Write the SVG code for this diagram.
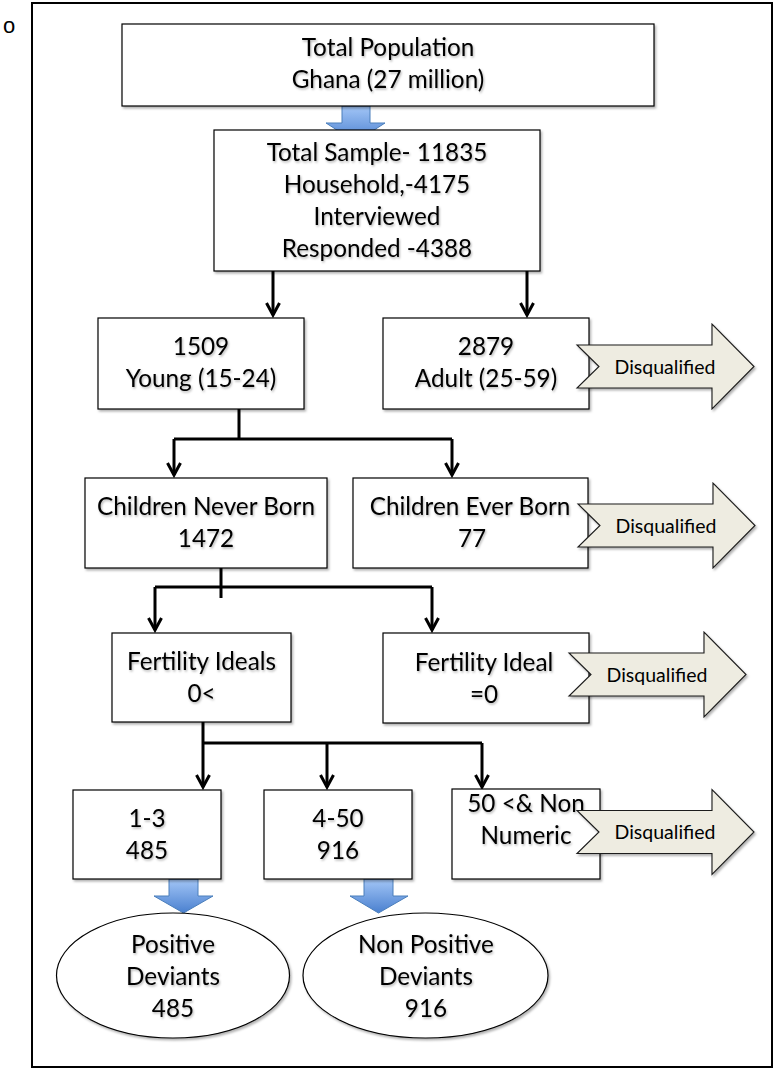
<svg xmlns="http://www.w3.org/2000/svg" width="776" height="1070" viewBox="0 0 776 1070">
<style>
.box{fill:#fff;stroke:#000;stroke-width:1.2;filter:url(#sh)}
.t{font-family:Lato,"Liberation Sans",sans-serif;font-size:24.3px;text-anchor:middle;fill:#000;filter:url(#tsh)}
.dq{fill:#EEECE1;stroke:#1a1a1a;stroke-width:1.1;filter:url(#sh)}
.dqt{font-family:Lato,"Liberation Sans",sans-serif;font-size:19.5px;text-anchor:middle;fill:#000}
.con{fill:none;stroke:#000;stroke-width:3}
.blue{fill:url(#bg);stroke:#4A7EBB;stroke-width:1}
</style>
<defs>
<filter id="sh" x="-5%" y="-5%" width="115%" height="125%"><feDropShadow dx="1.5" dy="2" stdDeviation="1.2" flood-color="#000" flood-opacity="0.3"/></filter>
<filter id="tsh" x="-5%" y="-20%" width="115%" height="150%"><feDropShadow dx="1" dy="1.5" stdDeviation="0.8" flood-color="#000" flood-opacity="0.3"/></filter>
<linearGradient id="bg" x1="0" y1="0" x2="0" y2="1"><stop offset="0" stop-color="#A3C6F7"/><stop offset="1" stop-color="#4A80CF"/></linearGradient>
<marker id="ah" markerUnits="userSpaceOnUse" markerWidth="20" markerHeight="20" viewBox="-14 -10 20 20" refX="0" refY="0" orient="auto" overflow="visible"><path d="M-12,-6.5 L0,0 L-12,6.5" fill="none" stroke="#000" stroke-width="3"/></marker>
<path id="dqs" d="M0,-21.5 H135 V-42.5 L177,0 L135,42.5 V21.5 H0 L22,0 Z"/>
</defs>
<rect width="776" height="1070" fill="#fff"/>
<text x="3" y="33" style="font-family:'Liberation Sans',sans-serif;font-size:22px">o</text>
<rect x="32" y="3" width="740" height="1064" fill="none" stroke="#000" stroke-width="2"/>

<g id="connectors">
<path class="blue" d="M342,106 H370 V123 H385 L355.5,142 L326,123 H342 Z"/>
<path class="con" d="M273,271 V315" marker-end="url(#ah)"/>
<path class="con" d="M527,271 V315" marker-end="url(#ah)"/>
<path class="con" d="M239,409 V439 M174,439 H452"/>
<path class="con" d="M174,439 V475" marker-end="url(#ah)"/>
<path class="con" d="M452,439 V475" marker-end="url(#ah)"/>
<path class="con" d="M221,568 V598 M155,587 H432"/>
<path class="con" d="M155,587 V630" marker-end="url(#ah)"/>
<path class="con" d="M432,587 V630" marker-end="url(#ah)"/>
<path class="con" d="M203,722 V743 M203,743 H482"/>
<path class="con" d="M203,743 V787" marker-end="url(#ah)"/>
<path class="con" d="M327,743 V787" marker-end="url(#ah)"/>
<path class="con" d="M482,743 V787" marker-end="url(#ah)"/>
<path class="blue" d="M169,879 H198 V896 H213 L183.5,913 L154,896 H169 Z"/>
<path class="blue" d="M364,879 H393 V896 H408 L378.5,913 L350,896 H364 Z"/>
</g>

<g id="n-total">
<rect class="box" x="122" y="24" width="532" height="82"/>
<text class="t" x="388" y="56">Total Population</text>
<text class="t" x="388" y="88">Ghana (27 million)</text>
</g>
<g id="n-sample">
<rect class="box" x="214" y="130" width="326" height="141"/>
<text class="t" x="377" y="161">Total Sample- 11835</text>
<text class="t" x="377" y="193">Household,-4175</text>
<text class="t" x="377" y="225">Interviewed</text>
<text class="t" x="377" y="257">Responded -4388</text>
</g>
<g id="n-young">
<rect class="box" x="98" y="318" width="206" height="91"/>
<text class="t" x="201" y="355">1509</text>
<text class="t" x="201" y="387">Young (15-24)</text>
</g>
<g id="n-adult">
<rect class="box" x="383" y="318" width="206" height="91"/>
<text class="t" x="486" y="355">2879</text>
<text class="t" x="486" y="387">Adult (25-59)</text>
</g>
<g id="n-never">
<rect class="box" x="85" y="478" width="242" height="90"/>
<text class="t" x="206" y="515">Children Never Born</text>
<text class="t" x="206" y="547">1472</text>
</g>
<g id="n-ever">
<rect class="box" x="353" y="478" width="235" height="90"/>
<text class="t" x="470" y="515">Children Ever Born</text>
<text class="t" x="472" y="547">77</text>
</g>
<g id="n-fi">
<rect class="box" x="112" y="633" width="179" height="89"/>
<text class="t" x="201.5" y="670">Fertility Ideals</text>
<text class="t" x="201.5" y="702">0&lt;</text>
</g>
<g id="n-fi0">
<rect class="box" x="383" y="633" width="206" height="90"/>
<text class="t" x="484" y="671">Fertility Ideal</text>
<text class="t" x="484" y="703">=0</text>
</g>
<g id="n-13">
<rect class="box" x="73" y="790" width="148" height="89"/>
<text class="t" x="147" y="827">1-3</text>
<text class="t" x="147" y="859">485</text>
</g>
<g id="n-450">
<rect class="box" x="264" y="790" width="148" height="89"/>
<text class="t" x="338" y="827">4-50</text>
<text class="t" x="338" y="859">916</text>
</g>
<g id="n-50">
<rect class="box" x="452" y="789" width="148" height="90"/>
<text class="t" x="526" y="812">50 &lt;&amp; Non</text>
<text class="t" x="526" y="844">Numeric</text>
</g>
<g id="n-pos">
<ellipse class="box" cx="173" cy="975.5" rx="116.5" ry="62.5"/>
<text class="t" x="173" y="953">Positive</text>
<text class="t" x="173" y="985">Deviants</text>
<text class="t" x="173" y="1017">485</text>
</g>
<g id="n-nonpos">
<ellipse class="box" cx="425.5" cy="975.5" rx="122.5" ry="62.5"/>
<text class="t" x="426" y="953">Non Positive</text>
<text class="t" x="426" y="985">Deviants</text>
<text class="t" x="426" y="1017">916</text>
</g>

<g id="dq1">
<use href="#dqs" class="dq" transform="translate(577,366.5)"/>
<text class="dqt" x="665" y="373.5">Disqualified</text>
</g>
<g id="dq2">
<use href="#dqs" class="dq" transform="translate(578,525.5)"/>
<text class="dqt" x="666" y="532.5">Disqualified</text>
</g>
<g id="dq3">
<use href="#dqs" class="dq" transform="translate(569,674.5)"/>
<text class="dqt" x="657" y="681.5">Disqualified</text>
</g>
<g id="dq4">
<use href="#dqs" class="dq" transform="translate(577,832)"/>
<text class="dqt" x="665" y="839">Disqualified</text>
</g>
</svg>
